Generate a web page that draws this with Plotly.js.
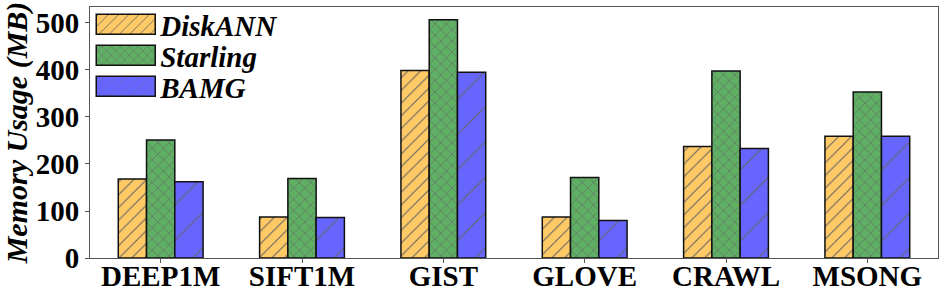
<!DOCTYPE html>
<html><head><meta charset="utf-8">
<script src="https://cdn.plot.ly/plotly-3.0.1.min.js"></script>
<style>html,body{margin:0;padding:0;background:#fff}#c{width:946px;height:299px}</style>
</head><body><div id="c"></div>
<script>
const categories = ["DEEP1M","SIFT1M","GIST","GLOVE","CRAWL","MSONG"];
const diskann = [168, 87, 399, 87, 237, 259];
const starling = [251, 169, 507, 171, 398, 353];
const bamg = [162, 86, 395, 80, 233, 259];
const yTicks = [0,100,200,300,400,500];

const FONT = "Liberation Serif, Times New Roman, serif";
function mk(name, y, color, shape, size, sol){
  return {type:'bar', name:name, x:categories, y:y,
    marker:{color:color, line:{color:'#111', width:1.5},
      pattern:{shape:shape, bgcolor:color, fgcolor:'#666', size:size, solidity:sol, fillmode:'replace'}}};
}
const data = [
  mk('DiskANN', diskann, '#FFC966', '/', 9, 0.12),
  mk('Starling', starling, '#5FAF64', 'x', 8, 0.14),
  mk('BAMG', bamg, '#6666FF', '/', 25, 0.045)
];
const layout = {
  width:946, height:299,
  margin:{l:90, r:8, t:7, b:41, autoexpand:false},
  paper_bgcolor:'#fff', plot_bgcolor:'#fff',
  barmode:'group', bargap:0.4, bargroupgap:0,
  font:{family:FONT, color:'#000'},
  showlegend:true,
  legend:{x:0.005, y:1.0, xanchor:'left', yanchor:'top', bgcolor:'rgba(0,0,0,0)',
    font:{family:FONT, size:29, weight:'bold', style:'italic', color:'#000'},
    itemwidth:60, tracegroupgap:0},
  xaxis:{range:[-0.5,5.5], showline:true, mirror:true, linecolor:'#555', linewidth:1,
    ticks:'outside', ticklen:4, tickcolor:'#555', ticklabelstandoff:-12,
    tickfont:{family:FONT, size:29, weight:'bold', color:'#000'}, showgrid:false},
  yaxis:{range:[0,534], tickvals:yTicks, showline:true, mirror:true, linecolor:'#555', linewidth:1,
    ticks:'outside', ticklen:4, tickcolor:'#555', showgrid:false, zeroline:false,
    tickfont:{family:FONT, size:29, weight:'bold', color:'#000'},
    title:{text:'Memory Usage (MB)', standoff:4,
      font:{family:FONT, size:30, weight:'bold', style:'italic', color:'#000'}}}
};
Plotly.newPlot('c', data, layout, {displayModeBar:false, staticPlot:true}).then(function(){
  document.querySelectorAll('.legend .traces .legendpoints path').forEach(function(p){
    p.setAttribute('d','M-33,10H26V-10H-33Z');
    p.style.strokeWidth = '1.5px';
  });
  document.querySelectorAll('.legend .traces .legendtext').forEach(function(t){
    t.setAttribute('x', parseFloat(t.getAttribute('x')) - 4);
  });
  var tr = document.querySelectorAll('.legend .traces');
  var y0 = null;
  tr.forEach(function(g, i){
    var m = /translate\(([-\d.]+),\s*([-\d.]+)\)/.exec(g.getAttribute('transform') || '');
    if(!m) return;
    if(y0 === null) y0 = parseFloat(m[2]);
    g.setAttribute('transform','translate(' + m[1] + ',' + (y0 + i*31) + ')');
  });
  var lg = document.querySelector('.legend');
  var m = /translate\(([-\d.]+),\s*([-\d.]+)\)/.exec(lg.getAttribute('transform') || '');
  if(m) lg.setAttribute('transform','translate(' + m[1] + ',' + (parseFloat(m[2]) - 8) + ')');
});
</script></body></html>
